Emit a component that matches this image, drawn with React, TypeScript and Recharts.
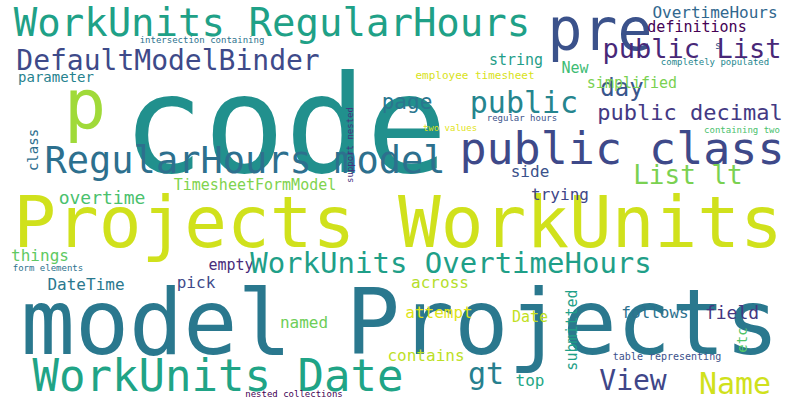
import { ScatterChart, Scatter, XAxis, YAxis } from "recharts";

// word cloud terms, their centre positions, font sizes and colours
const words = [
  "code", "Projects WorkUnits", "model Projects", "WorkUnits RegularHours", "pre", "p",
  "DefaultModelBinder", "page", "public List", "OvertimeHours", "definitions", "s",
  "public class", "RegularHours model", "public", "day", "simplified", "public decimal",
  "string", "New", "parameter", "employee timesheet", "intersection containing",
  "completely populated", "support nested", "two values", "regular hours", "containing two",
  "class", "TimesheetFormModel", "overtime", "List lt", "side", "trying", "things", "empty",
  "WorkUnits OvertimeHours", "form elements", "DateTime", "pick", "across", "attempt", "Date",
  "follows", "field", "submitted", "named", "etc", "table representing", "contains",
  "WorkUnits Date", "gt", "View", "Name", "top", "nested collections",
];
const xs = [
  285, 398, 400, 272, 600, 85, 168, 407, 692, 715, 697, 718,
  622, 245, 524, 622, 632, 690, 516, 575, 56, 475, 202,
  715, 350, 450, 522, 742, 33, 255, 102, 688, 530, 560, 40, 231,
  451, 48, 86, 196, 440, 439, 530, 655, 732, 572, 304, 742, 667, 426,
  218, 486, 633, 735, 530, 294,
];
const ys = [
  125, 222, 322, 22, 30, 105, 60, 102, 48, 12, 27, 45,
  148, 160, 102, 88, 83, 112, 60, 68, 77, 75, 40,
  62, 145, 128, 118, 130, 150, 185, 197, 175, 171, 194, 255, 265,
  263, 268, 284, 282, 282, 312, 317, 312, 312, 330, 322, 340, 356, 355,
  375, 373, 380, 383, 380, 394,
];
const sizes = [
  135, 71, 90, 39, 58, 70, 28, 21, 27, 16, 15, 10,
  45, 37, 30, 24, 15, 22, 15, 15, 14, 11, 9,
  9, 9, 9, 9, 9, 14, 15, 18, 26, 16, 16, 16, 15,
  29, 9, 16, 16, 16, 16, 15, 16, 18, 15, 16, 14, 10, 16,
  44, 30, 28, 30, 16, 9,
];
const colors = [
  "#21908d", "#d0e11c", "#2a788e", "#1fa187", "#3b528b", "#a0da39",
  "#3e4a89", "#2a768e", "#482878", "#31688e", "#440154", "#3b528b",
  "#3e4989", "#2d708e", "#25858e", "#39568c", "#7ad151", "#443983",
  "#1f9e89", "#3dbc74", "#26828e", "#d8e219", "#2c728e",
  "#24868e", "#46327e", "#dfe318", "#3b528b", "#4ac16d",
  "#2e6e8e", "#7fd34e", "#4ac16d", "#7ad151", "#3b528b", "#3f4788", "#5ec962", "#472c7a",
  "#1f9f88", "#2c728e", "#2a788e", "#3e4a89", "#b5de2b", "#dfe318", "#c2df23",
  "#2d718e", "#453781", "#1fa088", "#6ece58", "#52c569", "#3b518b", "#bddf26",
  "#20a486", "#27808e", "#404688", "#d0e11c", "#22a785", "#440154",
];
const vertical = ["support nested", "class", "submitted", "etc"];

const data = words.map((w, i) => ({
  word: w,
  x: xs[i],
  y: ys[i],
  size: sizes[i],
  color: colors[i],
  rot: vertical.includes(w) ? -90 : 0,
}));

const Word = (props: any) => {
  const { cx, cy, payload } = props;
  return (
    <text
      x={cx}
      y={cy}
      textAnchor="middle"
      dominantBaseline="central"
      fontSize={payload.size}
      fill={payload.color}
      fontFamily="DejaVu Sans Mono"
      transform={payload.rot ? `rotate(${payload.rot} ${cx} ${cy})` : undefined}
    >
      {payload.word}
    </text>
  );
};

export default function App() {
  return (
    <div style={{ position: "fixed", left: 0, top: 0, width: 800, height: 400, background: "#fff" }}>
      <ScatterChart width={800} height={400} margin={{ top: 0, right: 0, bottom: 0, left: 0 }}>
        <XAxis type="number" dataKey="x" domain={[0, 800]} hide />
        <YAxis type="number" dataKey="y" domain={[0, 400]} reversed hide />
        <Scatter data={data} shape={<Word />} isAnimationActive={false} />
      </ScatterChart>
    </div>
  );
}
